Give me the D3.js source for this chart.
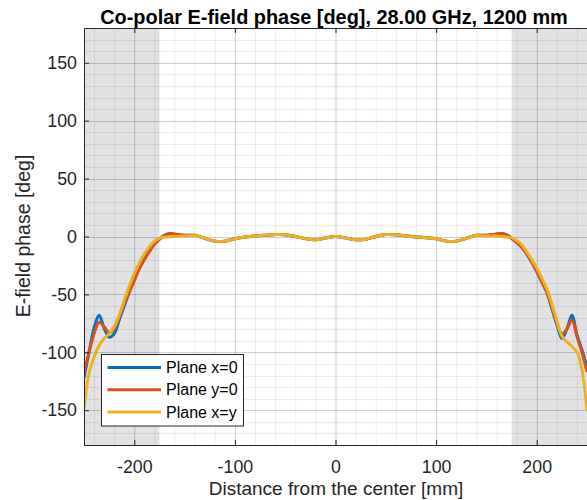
<!DOCTYPE html>
<html><head><meta charset="utf-8">
<script src="https://cdn.jsdelivr.net/npm/d3@7"></script>
<style>body{margin:0;background:#fff}svg{display:block;font-family:"Liberation Sans",Arial,sans-serif}</style>
</head><body><svg id="c" width="587" height="500"></svg>
<script>
const titleText = "Co-polar E-field phase [deg], 28.00 GHz, 1200 mm";
const xLabel = "Distance from the center [mm]";
const yLabel = "E-field phase [deg]";
const xTicks = [-200, -100, 0, 100, 200];
const yTicks = [-150, -100, -50, 0, 50, 100, 150];
const shadedBands = [[-250, -175], [175, 250]];
const seriesNames = ["Plane x=0", "Plane y=0", "Plane x=y"];
const seriesColors = ["#0072BD", "#D95319", "#EDB120"];

const xs = [-250,-245,-240,-235,-230,-225,-220,-215,-210,-205,-200,-195,-190,-185,-180,-175,-170,-165,-160,
  -150,-140,-130,-120,-110,-100,-90,-80,-70,-60,-50,-40,-30,-20,-10,0,10,20,30,40,50,60,70,80,90,100,110,120,130,140,150,
  160,165,170,175,180,185,190,195,200,205,210,215,220,225,230,235,240,245,250];

const planeX0 = [-122,-100,-79,-68,-79,-87,-84,-72,-60,-48,-37,-27,-19,-12,-6,-2,1,2.3,2,
  1,1,-1.5,-4,-4,-2,-0.5,0.5,1,1.7,1.5,0,-1.8,-2.8,-1.2,0,-1.2,-2.8,-2.3,0,1.7,1.5,0.5,-0.5,-1,-2,-4,-4,-1.5,1,1,
  2,2.3,1.5,-1.5,-5,-9,-15,-22,-30,-39,-48,-62,-76,-88,-80,-68,-85,-98,-113];
const planeY0 = [-118,-100,-84,-74,-78,-83,-80,-70,-58,-48,-38,-28,-20,-13,-7,-2.5,1,2.5,2.2,
  1,1,-1.5,-4,-4,-2,-0.5,0.5,1,1.7,1.5,0,-1.8,-2.8,-1.2,0,-1.2,-2.8,-2.3,0,1.7,1.5,0.5,-0.5,-1,-2,-4,-4,-1.5,1,1,
  2.2,2.5,1.5,-1.5,-5,-9,-15,-22,-30,-39,-48,-61,-74,-84,-80,-72,-86,-100,-117];
const planeXY = [-148,-118,-104,-94,-88,-84,-78,-68,-55,-43,-32,-23,-15,-9,-4,-1.5,-0.5,-0.3,0,
  0.5,0.8,-1.5,-4,-4,-2,-0.5,0.5,1,1.7,1.5,0,-1.8,-2.8,-1.2,0,-1.2,-2.8,-2.3,0,1.7,1.5,0.5,-0.5,-1,-2,-4,-4,-1.5,0.8,0.5,
  0.5,0,-0.5,-1,-3.5,-7,-13,-20,-27,-36,-45,-58,-73,-86,-91,-95,-100,-115,-150];
const seriesValues = [planeX0, planeY0, planeXY];

const W = 587, H = 500;
const L = 84, R = 587, T = 28, B = 445;
const svg = d3.select("#c");
const x = d3.scaleLinear().domain([-250, 250]).range([L, R]);
const y = d3.scaleLinear().domain([-180, 180]).range([B, T]);
const axisCol = "#262626";
const fmt = d => String(d);

svg.append("defs").append("clipPath").attr("id", "clip")
  .append("rect").attr("x", L).attr("y", T).attr("width", R - L).attr("height", B - T);

const plot = svg.append("g");
plot.append("rect").attr("x", L).attr("y", T).attr("width", R - L).attr("height", B - T).attr("fill", "#fff");
plot.selectAll("rect.band").data(shadedBands).join("rect").attr("class", "band")
  .attr("x", d => x(d[0])).attr("width", d => x(d[1]) - x(d[0]))
  .attr("y", T).attr("height", B - T).attr("fill", "#e2e2e5");

// minor grid
const xMinor = d3.range(-240, 251, 20);
const yMinor = d3.range(-180, 181, 10);
const grid = plot.append("g").attr("clip-path", "url(#clip)");
grid.selectAll("line.xm").data(xMinor).join("line")
  .attr("x1", d => x(d) + 0.5).attr("x2", d => x(d) + 0.5).attr("y1", T).attr("y2", B)
  .attr("stroke", "rgba(0,0,0,0.07)").attr("stroke-width", 1);
grid.selectAll("line.ym").data(yMinor).join("line")
  .attr("y1", d => Math.round(y(d)) + 0.5).attr("y2", d => Math.round(y(d)) + 0.5).attr("x1", L).attr("x2", R)
  .attr("stroke", "rgba(0,0,0,0.07)").attr("stroke-width", 1);
grid.selectAll("line.xM").data(xTicks).join("line")
  .attr("x1", d => x(d) + 0.5).attr("x2", d => x(d) + 0.5).attr("y1", T).attr("y2", B)
  .attr("stroke", "rgba(0,0,0,0.12)").attr("stroke-width", 1);
grid.selectAll("line.yM").data(yTicks).join("line")
  .attr("y1", d => Math.round(y(d)) + 0.5).attr("y2", d => Math.round(y(d)) + 0.5).attr("x1", L).attr("x2", R)
  .attr("stroke", "rgba(0,0,0,0.12)").attr("stroke-width", 1);

// lines
const line = d3.line().x((d, i) => x(xs[i])).y(d => y(d)).curve(d3.curveCatmullRom);
const lines = plot.append("g").attr("clip-path", "url(#clip)");
seriesValues.forEach((vals, k) => {
  lines.append("path").datum(vals).attr("d", line).attr("fill", "none")
    .attr("stroke", seriesColors[k]).attr("stroke-width", 3).attr("stroke-linejoin", "round");
});

// axes
const fontTick = 17.8;
const xAxisB = d3.axisBottom(x).tickValues(xTicks).tickFormat(fmt).tickSizeInner(-5).tickSizeOuter(0).tickPadding(15);
const gxb = svg.append("g").attr("transform", `translate(0,${B})`).call(xAxisB);
const xAxisT = d3.axisTop(x).tickValues(xTicks).tickSizeInner(-5).tickSizeOuter(0).tickFormat("");
const gxt = svg.append("g").attr("transform", `translate(0,${T})`).call(xAxisT);
const yAxisL = d3.axisLeft(y).tickValues(yTicks).tickFormat(fmt).tickSizeInner(-5).tickSizeOuter(0).tickPadding(7);
const gyl = svg.append("g").attr("transform", `translate(${L},0)`).call(yAxisL);
[gxb, gxt, gyl].forEach(g => {
  g.select(".domain").attr("stroke", axisCol).attr("stroke-width", 1);
  g.selectAll(".tick line").attr("stroke", axisCol);
  g.selectAll(".tick text").attr("fill", axisCol).style("font-size", fontTick + "px").style("font-family", "Liberation Sans, Arial, sans-serif");
});
gxb.selectAll(".tick text").attr("dy", "0.71em");

// title and labels
svg.append("text").attr("x", 334).attr("y", 24).attr("text-anchor", "middle")
  .style("font-size", "19.9px").style("font-weight", "bold").attr("fill", "#000").text(titleText);
svg.append("text").attr("x", 336).attr("y", 495).attr("text-anchor", "middle")
  .style("font-size", "19px").attr("fill", axisCol).text(xLabel);
svg.append("text").attr("transform", `translate(30,236) rotate(-90)`).attr("text-anchor", "middle")
  .style("font-size", "19.5px").attr("fill", axisCol).text(yLabel);

// legend
const lg = svg.append("g");
lg.append("rect").attr("x", 101.5).attr("y", 354.5).attr("width", 142).attr("height", 71.5)
  .attr("fill", "#fff").attr("stroke", axisCol).attr("stroke-width", 1);
seriesNames.forEach((n, k) => {
  const yy = 367.5 + k * 22.2;
  lg.append("line").attr("x1", 107.5).attr("x2", 161).attr("y1", yy).attr("y2", yy)
    .attr("stroke", seriesColors[k]).attr("stroke-width", 3);
  lg.append("text").attr("x", 166).attr("y", yy).attr("dy", "0.35em")
    .style("font-size", "16px").attr("fill", "#000").text(n);
});
</script></body></html>
